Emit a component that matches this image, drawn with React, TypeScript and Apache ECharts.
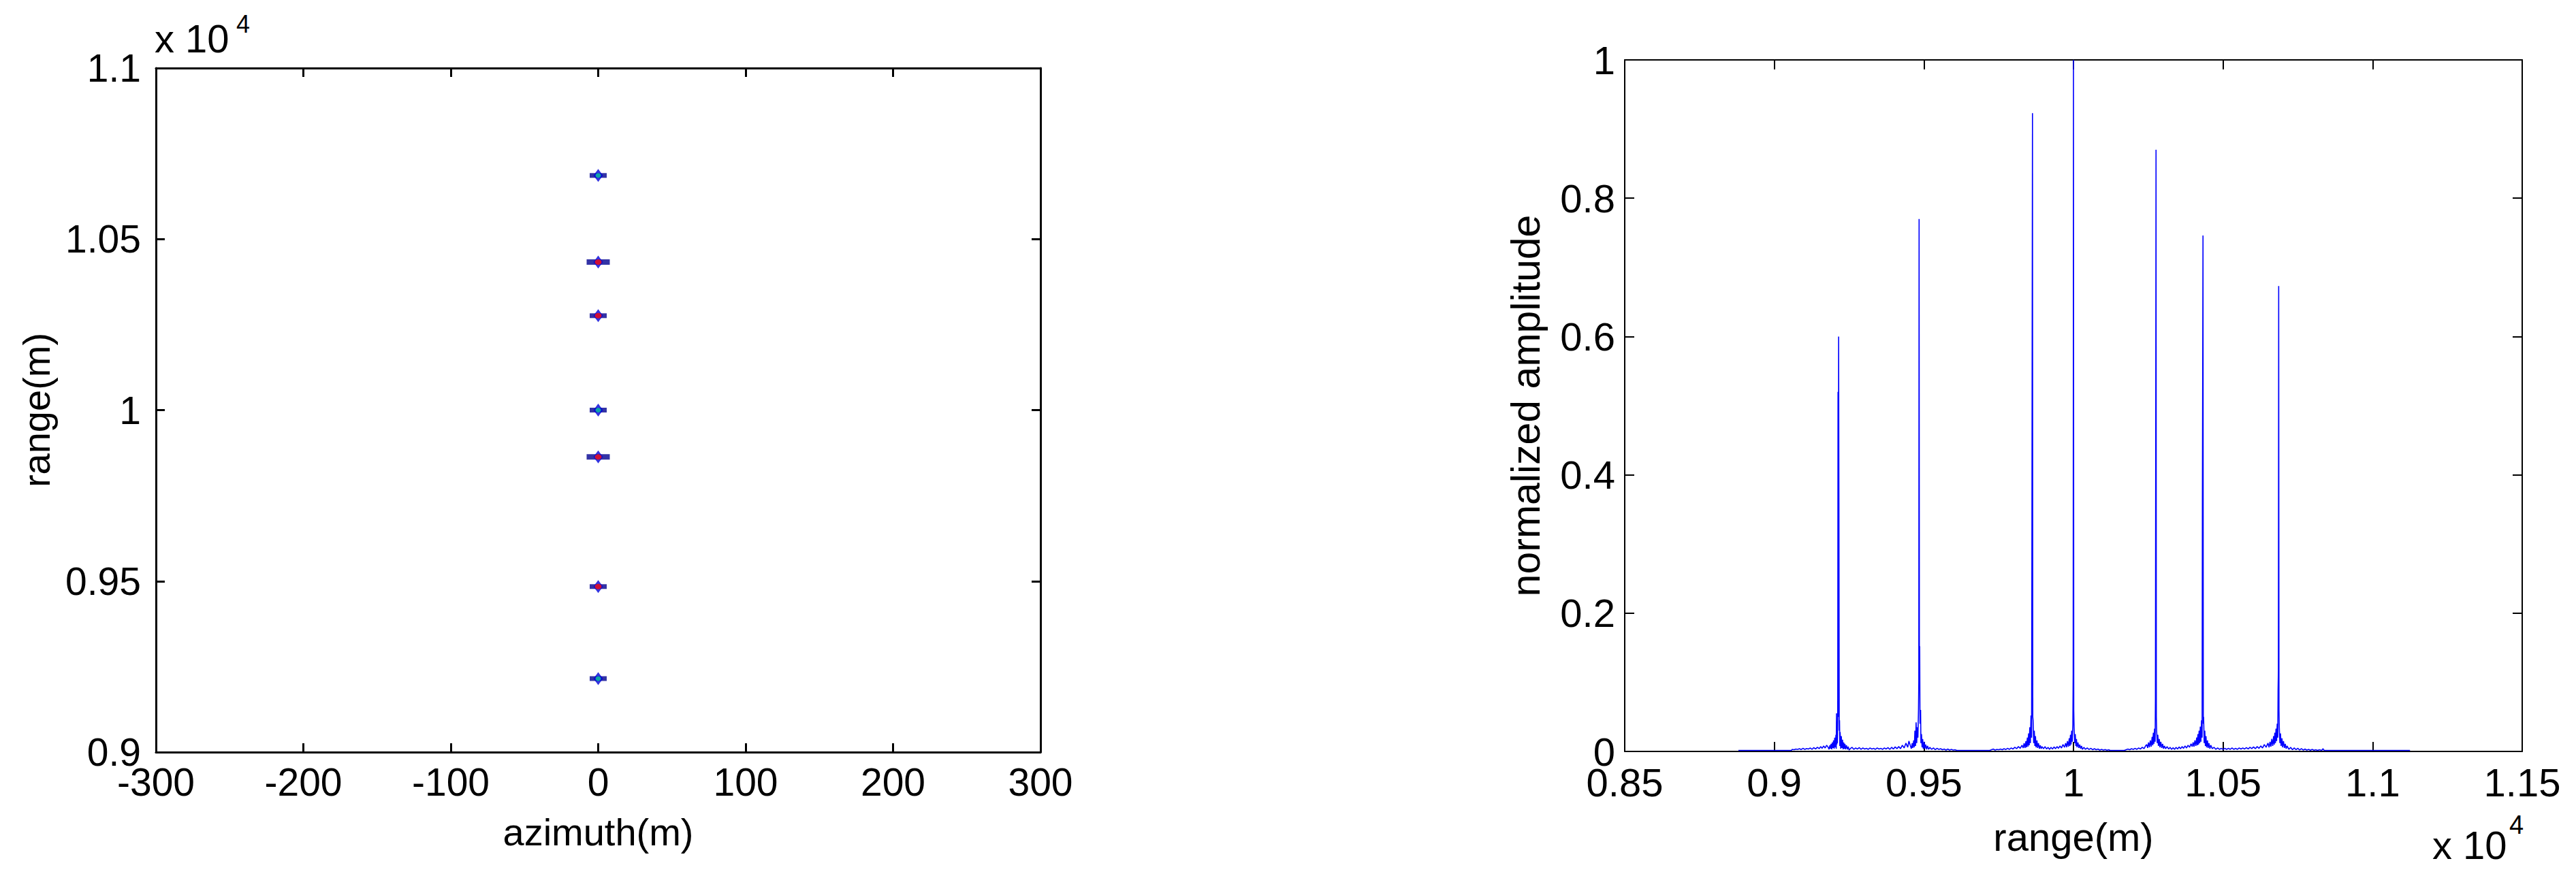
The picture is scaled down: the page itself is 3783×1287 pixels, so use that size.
import React, { useEffect, useRef } from "react";
import * as echarts from "echarts";

// ---------- Left chart: imaged point targets (azimuth, range) ----------
const strongTargets = [10433, 9863]; // range (m), red core, wide
const mediumTargets = [10276, 9484]; // range (m), red core
const weakTargets = [10686, 10000, 9215]; // range (m), cyan core
const targetAzimuth = 0;

// ---------- Right chart: range profile (range m, normalized amplitude) ----------
const floorStart = [[8880, 0.0015], [9000, 0.0015], [9057, 0.0015]];
const noiseA = [[9060,0.003],[9066,0.0025],[9072,0.0035],[9078,0.003],[9084,0.004],[9090,0.0028],[9096,0.0045],[9102,0.003],[9108,0.0042],[9114,0.0035],[9120,0.005],[9126,0.003],[9132,0.0055],[9138,0.0035],[9144,0.006],[9150,0.004],[9155,0.007],[9160,0.0045],[9165,0.008],[9170,0.005],[9175,0.009]];
const peak1 = [[9180,0.006],[9183,0.003],[9186,0.009],[9188,0.004],[9190,0.011],[9192,0.003],[9194,0.013],[9196,0.005],[9198,0.016],[9200,0.004],[9202,0.02],[9204,0.006],[9206,0.024],[9207,0.004],[9208,0.055],[9209,0.01],[9210,0.03],[9211,0.012],[9212,0.045],[9213,0.52],[9214,0.05],[9215,0.6],[9216,0.36],[9217,0.03],[9218,0.045],[9219,0.008],[9220,0.028],[9222,0.004],[9224,0.022],[9226,0.005],[9228,0.017],[9230,0.003],[9232,0.013],[9234,0.004],[9236,0.011],[9238,0.003],[9241,0.009],[9244,0.003],[9247,0.007],[9250,0.002]];
const noiseB = [[9254,0.004],[9260,0.006],[9266,0.003],[9272,0.005],[9278,0.0035],[9284,0.0055],[9290,0.003],[9296,0.005],[9302,0.0035],[9308,0.0045],[9314,0.003],[9320,0.005],[9326,0.0035],[9332,0.0045],[9338,0.003],[9344,0.005],[9350,0.0035],[9356,0.0045],[9362,0.003],[9368,0.005],[9374,0.0035],[9380,0.0055],[9386,0.003],[9392,0.006],[9398,0.0035],[9404,0.0065],[9410,0.004],[9416,0.007],[9422,0.004],[9428,0.009],[9434,0.005],[9440,0.012],[9446,0.006],[9450,0.015]];
const peak2 = [[9455,0.008],[9458,0.004],[9461,0.012],[9463,0.005],[9466,0.016],[9468,0.006],[9470,0.03],[9472,0.008],[9474,0.042],[9476,0.012],[9478,0.035],[9480,0.02],[9482,0.06],[9483,0.1],[9484,0.77],[9485,0.09],[9486,0.152],[9487,0.04],[9489,0.06],[9490,0.012],[9492,0.025],[9494,0.006],[9496,0.018],[9498,0.004],[9501,0.014],[9503,0.004],[9506,0.01],[9509,0.003],[9512,0.008],[9516,0.003]];
const noiseC = [[9520,0.006],[9526,0.003],[9532,0.005],[9538,0.0025],[9544,0.0045],[9550,0.003],[9556,0.004],[9562,0.0025],[9568,0.0035],[9574,0.002],[9580,0.0035],[9586,0.002],[9592,0.003],[9598,0.002],[9604,0.0025],[9610,0.0015],[9720,0.0015]];
const noiseD = [[9726,0.0025],[9732,0.0035],[9738,0.002],[9744,0.003],[9750,0.0025],[9756,0.0035],[9762,0.0025],[9768,0.004],[9774,0.0028],[9780,0.0045],[9786,0.003],[9792,0.005],[9798,0.0035],[9804,0.006],[9810,0.004],[9816,0.007],[9822,0.0045],[9828,0.009],[9832,0.005]];
const peak3 = [[9835,0.012],[9838,0.005],[9841,0.015],[9843,0.006],[9846,0.02],[9848,0.007],[9850,0.026],[9852,0.009],[9854,0.035],[9856,0.012],[9858,0.052],[9860,0.02],[9861,0.277],[9862,0.605],[9863,0.923],[9864,0.05],[9865,0.045],[9867,0.012],[9869,0.03],[9871,0.008],[9873,0.022],[9875,0.006],[9878,0.016],[9880,0.005],[9883,0.012],[9886,0.004],[9889,0.009],[9892,0.004],[9895,0.007]];
const noiseE = [[9900,0.004],[9905,0.007],[9910,0.0035],[9915,0.006],[9920,0.003],[9925,0.006],[9930,0.0035],[9935,0.0065],[9940,0.004],[9945,0.007],[9950,0.0045],[9955,0.008],[9960,0.005],[9965,0.01],[9970,0.006]];
const peak4 = [[9974,0.012],[9977,0.006],[9980,0.015],[9983,0.007],[9986,0.019],[9988,0.008],[9990,0.024],[9992,0.01],[9994,0.03],[9996,0.014],[9998,0.04],[9999,0.113],[10000,1.0],[10001,0.06],[10002,0.035],[10004,0.012],[10006,0.025],[10008,0.008],[10010,0.018],[10012,0.006],[10015,0.013],[10018,0.005],[10021,0.01],[10024,0.004],[10027,0.008],[10030,0.003]];
const noiseF = [[10035,0.006],[10040,0.003],[10046,0.005],[10052,0.0028],[10058,0.0045],[10064,0.0025],[10070,0.004],[10076,0.0025],[10082,0.0035],[10088,0.002],[10094,0.003],[10100,0.002],[10106,0.0028],[10112,0.0018],[10118,0.0025],[10122,0.0015],[10170,0.0015]];
const noiseG = [[10176,0.0025],[10182,0.0035],[10188,0.0025],[10194,0.004],[10200,0.003],[10206,0.0045],[10212,0.003],[10218,0.005],[10224,0.0035],[10230,0.006],[10236,0.004],[10241,0.008]];
const peak5 = [[10245,0.01],[10248,0.005],[10251,0.013],[10254,0.006],[10257,0.016],[10260,0.007],[10263,0.021],[10265,0.009],[10267,0.027],[10269,0.011],[10271,0.033],[10273,0.014],[10274,0.076],[10276,0.87],[10277,0.05],[10278,0.03],[10280,0.012],[10282,0.024],[10284,0.008],[10287,0.018],[10289,0.006],[10292,0.014],[10295,0.005],[10298,0.011],[10301,0.004],[10304,0.008]];
const noiseH = [[10308,0.004],[10313,0.007],[10318,0.0035],[10323,0.006],[10328,0.003],[10333,0.0055],[10338,0.003],[10343,0.006],[10348,0.0035],[10353,0.0065],[10358,0.004],[10363,0.007],[10368,0.0045],[10373,0.008],[10378,0.005],[10383,0.009],[10388,0.006],[10393,0.011],[10397,0.007]];
const peak6 = [[10400,0.013],[10403,0.007],[10406,0.016],[10409,0.008],[10412,0.02],[10414,0.009],[10416,0.025],[10418,0.01],[10420,0.03],[10422,0.012],[10424,0.036],[10426,0.014],[10428,0.045],[10430,0.02],[10431,0.368],[10432,0.552],[10433,0.746],[10434,0.04],[10435,0.05],[10437,0.012],[10439,0.03],[10441,0.008],[10443,0.022],[10445,0.006],[10448,0.016],[10450,0.005],[10453,0.012],[10456,0.004],[10459,0.009]];
const noiseI = [[10464,0.004],[10470,0.006],[10476,0.003],[10482,0.005],[10488,0.003],[10494,0.0045],[10500,0.0028],[10506,0.0045],[10512,0.003],[10518,0.0045],[10524,0.003],[10530,0.005],[10536,0.003],[10542,0.0045],[10548,0.003],[10554,0.005],[10560,0.0035],[10566,0.005],[10572,0.0035],[10578,0.0055],[10584,0.0035],[10590,0.006],[10596,0.004],[10602,0.0065],[10608,0.004],[10614,0.007],[10620,0.0045],[10626,0.008],[10632,0.005],[10638,0.01],[10644,0.006],[10650,0.012]];
const peak7 = [[10654,0.006],[10657,0.014],[10660,0.007],[10663,0.018],[10666,0.008],[10669,0.022],[10671,0.01],[10673,0.027],[10675,0.012],[10677,0.033],[10679,0.015],[10681,0.04],[10683,0.02],[10684,0.09],[10685,0.117],[10686,0.673],[10687,0.06],[10688,0.035],[10690,0.012],[10692,0.026],[10694,0.008],[10697,0.019],[10699,0.006],[10702,0.015],[10705,0.005],[10708,0.011],[10711,0.004],[10714,0.008]];
const noiseJ = [[10720,0.003],[10726,0.006],[10732,0.0025],[10738,0.005],[10744,0.0025],[10750,0.0045],[10756,0.002],[10762,0.004],[10768,0.002],[10774,0.0035],[10780,0.002],[10786,0.003],[10792,0.0018],[10798,0.003],[10804,0.0018],[10810,0.0025],[10816,0.0015],[10822,0.0025],[10830,0.0015],[10834,0.004],[10838,0.0015]];
const floorEnd = [[11000, 0.0015], [11125, 0.0015]];

const FONT = "'Liberation Sans', Arial, Helvetica, sans-serif";

const rangeLabel = (v: number) => String(Math.round(v) / 10000);

export default function App() {
  const ref = useRef<HTMLDivElement>(null);

  useEffect(() => {
    if (!ref.current) return;
    const chart = echarts.init(ref.current, null, { renderer: "svg" });

    const trace = [
      ...floorStart, ...noiseA, ...peak1, ...noiseB, ...peak2, ...noiseC,
      ...noiseD, ...peak3, ...noiseE, ...peak4, ...noiseF, ...noiseG,
      ...peak5, ...noiseH, ...peak6, ...noiseI, ...peak7, ...noiseJ, ...floorEnd,
    ];

    const allTargets = [...strongTargets, ...mediumTargets, ...weakTargets];
    const pts = (arr: number[]) => arr.map((r) => [targetAzimuth, r]);

    const blackLine = (w: number) => ({ show: true, onZero: false, lineStyle: { color: "#000", width: w } });
    const tick = (len: number, w: number) => ({ show: true, inside: true, length: len, lineStyle: { color: "#000", width: w } });

    const leftLabel = { color: "#000", fontSize: 57, fontFamily: FONT };
    const rightLabel = { color: "#000", fontSize: 58, fontFamily: FONT };

    const scatterBase = (data: any, symbol: string, size: any, color: string, z: number) => ({
      type: "scatter", xAxisIndex: 0, yAxisIndex: 0, data, symbol, symbolSize: size,
      itemStyle: { color }, z, silent: true,
    });

    const option: any = {
      animation: false,
      backgroundColor: "#fff",
      grid: [
        { left: 229, top: 100, width: 1299, height: 1005, containLabel: false },
        { left: 2386, top: 88, width: 1318, height: 1016, containLabel: false },
      ],
      xAxis: [
        {
          gridIndex: 0, type: "value", position: "bottom", min: -300, max: 300, interval: 100,
          axisLine: blackLine(3), axisTick: tick(13, 3), splitLine: { show: false },
          axisLabel: { ...leftLabel, margin: 15 },
          name: "azimuth(m)", nameLocation: "middle", nameGap: 89,
          nameTextStyle: { color: "#000", fontSize: 56, fontFamily: FONT },
        },
        {
          gridIndex: 0, type: "value", position: "top", min: -300, max: 300, interval: 100,
          axisLine: blackLine(3), axisTick: tick(13, 3), splitLine: { show: false },
          axisLabel: { show: false },
        },
        {
          gridIndex: 1, type: "value", position: "bottom", min: 8500, max: 11500, interval: 500,
          axisLine: blackLine(2), axisTick: tick(14, 2), splitLine: { show: false },
          axisLabel: { ...rightLabel, margin: 16, formatter: rangeLabel },
          name: "range(m)", nameLocation: "middle", nameGap: 96,
          nameTextStyle: { color: "#000", fontSize: 58, fontFamily: FONT },
        },
        {
          gridIndex: 1, type: "value", position: "top", min: 8500, max: 11500, interval: 500,
          axisLine: blackLine(2), axisTick: tick(14, 2), splitLine: { show: false },
          axisLabel: { show: false },
        },
      ],
      yAxis: [
        {
          gridIndex: 0, type: "value", position: "left", min: 9000, max: 11000, interval: 500,
          axisLine: blackLine(3), axisTick: tick(13, 3), splitLine: { show: false },
          axisLabel: { ...leftLabel, margin: 22, formatter: rangeLabel },
          name: "range(m)", nameLocation: "middle", nameGap: 148,
          nameTextStyle: { color: "#000", fontSize: 56, fontFamily: FONT },
        },
        {
          gridIndex: 0, type: "value", position: "right", min: 9000, max: 11000, interval: 500,
          axisLine: blackLine(3), axisTick: tick(13, 3), splitLine: { show: false },
          axisLabel: { show: false },
        },
        {
          gridIndex: 1, type: "value", position: "left", min: 0, max: 1, interval: 0.2,
          axisLine: blackLine(2), axisTick: tick(14, 2), splitLine: { show: false },
          axisLabel: { ...rightLabel, margin: 14 },
          name: "normalized amplitude", nameLocation: "middle", nameGap: 116,
          nameTextStyle: { color: "#000", fontSize: 59, fontFamily: FONT },
        },
        {
          gridIndex: 1, type: "value", position: "right", min: 0, max: 1, interval: 0.2,
          axisLine: blackLine(2), axisTick: tick(14, 2), splitLine: { show: false },
          axisLabel: { show: false },
        },
      ],
      series: [
        scatterBase(pts(strongTargets), "rect", [34, 8], "#000090", 3),
        scatterBase(pts([...mediumTargets, ...weakTargets]), "rect", [25, 7], "#000090", 3),
        scatterBase(pts(allTargets), "diamond", [14, 19], "#0000d8", 4),
        scatterBase(pts([...strongTargets, ...mediumTargets]), "circle", [10, 8], "#ff1010", 5),
        scatterBase(pts(weakTargets), "circle", [8, 7], "#10c8a0", 5),
        {
          type: "line", xAxisIndex: 2, yAxisIndex: 2, data: trace,
          showSymbol: false, symbol: "none",
          lineStyle: { color: "#0000ff", width: 1.6 }, z: 3, silent: true,
        },
      ],
      graphic: [
        { type: "text", left: 227, top: 27, style: { text: "x 10", fill: "#000", font: `58px ${FONT}` } },
        { type: "text", left: 347, top: 17, style: { text: "4", fill: "#000", font: `36px ${FONT}` } },
        { type: "text", left: 3572, top: 1212, style: { text: "x 10", fill: "#000", font: `58px ${FONT}` } },
        { type: "text", left: 3685, top: 1193, style: { text: "4", fill: "#000", font: `38px ${FONT}` } },
      ],
    };

    chart.setOption(option);
    return () => chart.dispose();
  }, []);

  return (
    <div
      ref={ref}
      style={{ position: "absolute", left: 0, top: 0, width: 3783, height: 1287, background: "#fff" }}
    />
  );
}
